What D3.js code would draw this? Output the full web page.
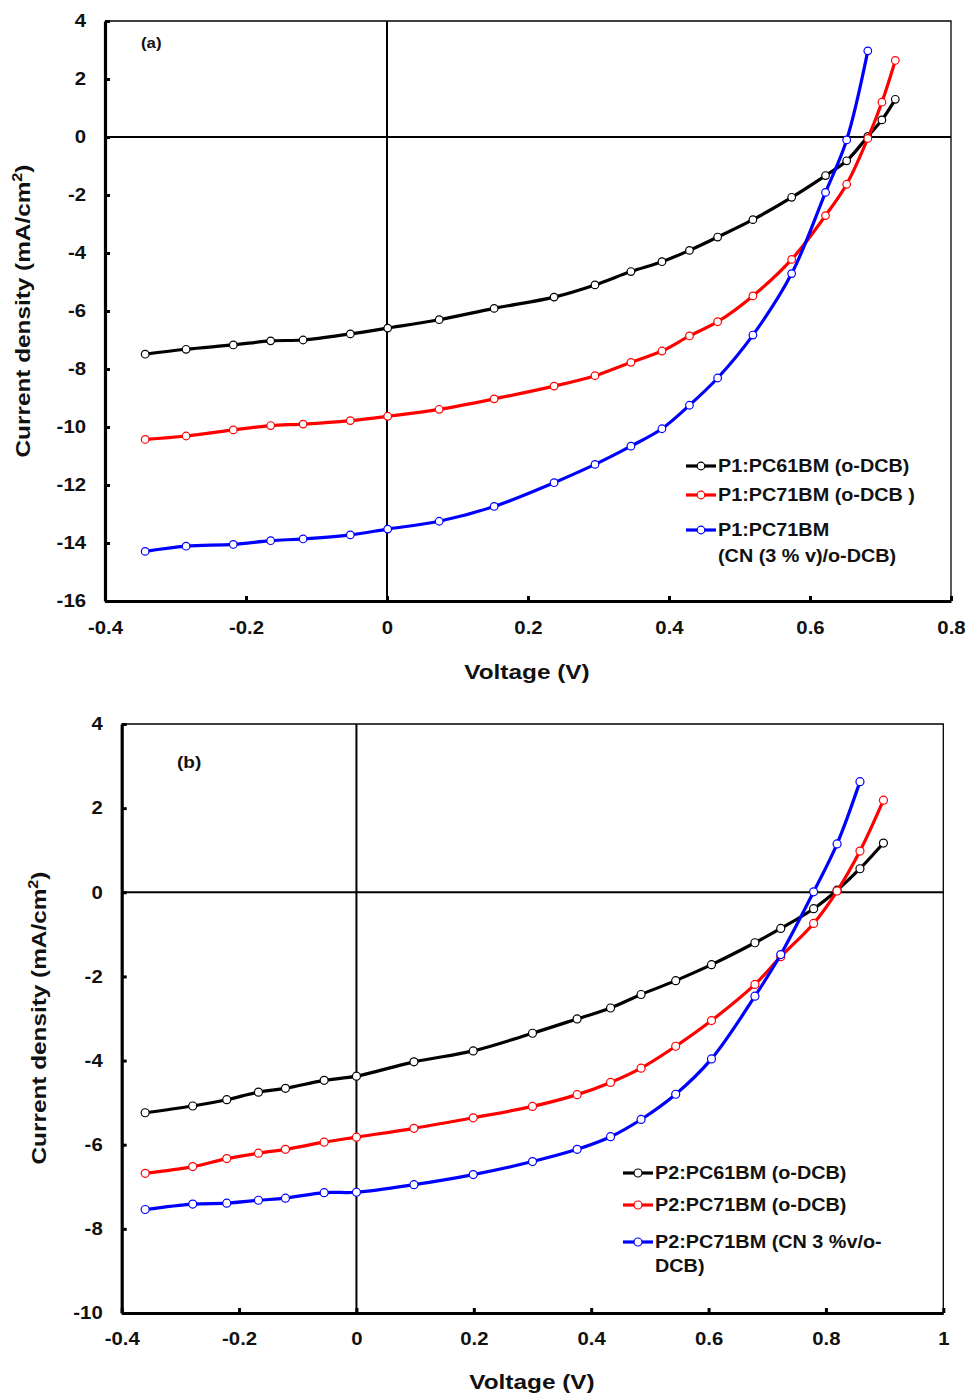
<!DOCTYPE html>
<html>
<head>
<meta charset="utf-8">
<script src="https://cdn.jsdelivr.net/npm/d3@7"></script>
<style>
  body { margin: 0; background: #fff; }
  svg text { font-family: "Liberation Sans", Arial, sans-serif; font-weight: bold; fill: #111; }
</style>
</head>
<body>
<div id="chart"></div>
<script>
// J-V curves, panel (a) P1 blends, panel (b) P2 blends

// panel (a)
var voltA = [-0.343, -0.285, -0.218, -0.165, -0.119, -0.052, 0.001, 0.074, 0.152, 0.237, 0.295,
             0.346, 0.390, 0.429, 0.469, 0.519, 0.574, 0.622, 0.652, 0.682, 0.702, 0.721];
var blackA = [-7.49, -7.32, -7.17, -7.03, -7.00, -6.79, -6.59, -6.30, -5.91, -5.52, -5.10,
              -4.64, -4.30, -3.91, -3.45, -2.85, -2.08, -1.33, -0.82, 0.02, 0.59, 1.30];
var redA = [-10.43, -10.31, -10.10, -9.95, -9.90, -9.78, -9.63, -9.39, -9.03, -8.59, -8.23,
            -7.77, -7.38, -6.86, -6.37, -5.48, -4.22, -2.71, -1.63, -0.05, 1.20, 2.64];
var blueA = [-14.29, -14.11, -14.05, -13.92, -13.86, -13.72, -13.52, -13.25, -12.74, -11.92, -11.29,
             -10.66, -10.06, -9.25, -8.31, -6.83, -4.71, -1.91, -0.10, 2.97];
var legendA = ["P1:PC61BM (o-DCB)", "P1:PC71BM (o-DCB )", ["P1:PC71BM", "(CN (3 % v)/o-DCB)"]];
var xTicksA = [-0.4, -0.2, 0, 0.2, 0.4, 0.6, 0.8];
var yTicksA = [4, 2, 0, -2, -4, -6, -8, -10, -12, -14, -16];

// panel (b)
var voltB = [-0.360, -0.279, -0.221, -0.167, -0.121, -0.055, 0.000, 0.098, 0.199, 0.300, 0.376,
             0.433, 0.485, 0.544, 0.605, 0.679, 0.723, 0.779, 0.819, 0.858, 0.898];
var blackB = [-5.24, -5.08, -4.93, -4.75, -4.66, -4.47, -4.37, -4.03, -3.77, -3.35, -3.01,
              -2.75, -2.43, -2.10, -1.72, -1.20, -0.86, -0.39, 0.05, 0.56, 1.17];
var redB = [-6.68, -6.52, -6.33, -6.20, -6.11, -5.94, -5.82, -5.61, -5.36, -5.09, -4.81,
            -4.52, -4.18, -3.66, -3.05, -2.19, -1.53, -0.74, 0.03, 0.98, 2.19];
var blueB = [-7.54, -7.41, -7.39, -7.32, -7.27, -7.14, -7.13, -6.95, -6.71, -6.40, -6.11,
             -5.81, -5.40, -4.80, -3.96, -2.47, -1.48, 0.01, 1.15, 2.63];
var legendB = ["P2:PC61BM (o-DCB)", "P2:PC71BM (o-DCB)", ["P2:PC71BM (CN 3 %v/o-", "DCB)"]];
var xTicksB = [-0.4, -0.2, 0, 0.2, 0.4, 0.6, 0.8, 1];
var yTicksB = [4, 2, 0, -2, -4, -6, -8, -10];

var colors = ["#000000", "#ff0000", "#0000ff"];

var svg = d3.select("#chart").append("svg")
    .attr("width", 971)
    .attr("height", 1397);

function fmt(d) { return d === 0 ? "0" : String(+d.toFixed(1)); }

// the original's bold font runs wider than Liberation Sans, so stretch glyphs a bit
function widen(sel, k) {
    sel.each(function() {
        var w = this.getComputedTextLength();
        d3.select(this).attr("textLength", w * k).attr("lengthAdjust", "spacingAndGlyphs");
    });
}

function drawPanel(opt) {
    var x = d3.scaleLinear().domain(opt.xDomain).range([opt.left, opt.right]),
        y = d3.scaleLinear().domain(opt.yDomain).range([opt.bottom, opt.top]);

    var g = svg.append("g");

    // thin frame top / right
    g.append("path")
        .attr("d", "M" + opt.left + "," + opt.top + "H" + opt.right + "V" + opt.bottom)
        .attr("fill", "none").attr("stroke", "#000").attr("stroke-width", 1.3);

    // zero lines
    g.append("line")
        .attr("x1", opt.left).attr("x2", opt.right)
        .attr("y1", y(0)).attr("y2", y(0))
        .attr("stroke", "#000").attr("stroke-width", 2);
    g.append("line")
        .attr("x1", x(0)).attr("x2", x(0))
        .attr("y1", opt.top).attr("y2", opt.bottom)
        .attr("stroke", "#000").attr("stroke-width", 2);

    var yAxis = g.append("g")
        .attr("transform", "translate(" + opt.left + ",0)")
        .call(d3.axisLeft(y).tickValues(opt.yTicks).tickFormat(fmt)
            .tickSizeInner(-5).tickSizeOuter(0).tickPadding(19));
    var xAxis = g.append("g")
        .attr("transform", "translate(0," + opt.bottom + ")")
        .call(d3.axisBottom(x).tickValues(opt.xTicks).tickFormat(fmt)
            .tickSizeInner(-5).tickSizeOuter(0).tickPadding(opt.xPad));

    [yAxis, xAxis].forEach(function(a) {
        a.select(".domain").attr("stroke-width", 3.2);
        a.selectAll(".tick line").attr("stroke-width", 3);
        a.selectAll(".tick text")
            .attr("font-family", "'Liberation Sans', Arial, sans-serif")
            .attr("font-weight", "bold")
            .attr("font-size", 18)
            .attr("fill", "#111")
            .call(widen, 1.13);
    });

    var line = d3.line()
        .x(function(d) { return x(d[0]); })
        .y(function(d) { return y(d[1]); })
        .curve(d3.curveCatmullRom.alpha(0.5));

    opt.series.forEach(function(vals, i) {
        var pts = d3.zip(opt.volts.slice(0, vals.length), vals);
        g.append("path")
            .datum(pts)
            .attr("d", line)
            .attr("fill", "none")
            .attr("stroke", colors[i])
            .attr("stroke-width", 3.2);
        g.selectAll(".pt" + i)
            .data(pts)
            .enter().append("circle")
                .attr("class", "pt" + i)
                .attr("cx", function(d) { return x(d[0]); })
                .attr("cy", function(d) { return y(d[1]); })
                .attr("r", opt.r)
                .attr("fill", "#fff")
                .attr("stroke", colors[i])
                .attr("stroke-width", 1.2);
    });

    // panel label
    g.append("text")
        .attr("x", opt.tagX).attr("y", opt.tagY)
        .attr("font-size", opt.tagSize)
        .text(opt.tag)
        .call(widen, 1.12);

    // axis titles
    g.append("text")
        .attr("x", opt.xTitle[0]).attr("y", opt.xTitle[1])
        .attr("text-anchor", "middle")
        .attr("font-size", 21)
        .text("Voltage (V)")
        .call(widen, 1.16);
    var yt = g.append("text")
        .attr("transform", "translate(" + opt.yTitle[0] + "," + opt.yTitle[1] + ") rotate(-90)")
        .attr("text-anchor", "middle")
        .attr("font-size", 21);
    yt.append("tspan").text("Current density (mA/cm");
    yt.append("tspan").attr("font-size", 14).attr("dy", -8).text("2");
    yt.append("tspan").attr("dy", 8).text(")");
    yt.attr("textLength", 293).attr("lengthAdjust", "spacingAndGlyphs");

    // legend
    var lg = g.append("g");
    opt.legend.forEach(function(label, i) {
        var ly = opt.legRows[i];
        lg.append("line")
            .attr("x1", opt.legX).attr("x2", opt.legX + opt.legW)
            .attr("y1", ly).attr("y2", ly)
            .attr("stroke", colors[i]).attr("stroke-width", 3.2);
        lg.append("circle")
            .attr("cx", opt.legX + opt.legW / 2).attr("cy", ly)
            .attr("r", opt.r)
            .attr("fill", "#fff").attr("stroke", colors[i]).attr("stroke-width", 1.2);
        var lines = Array.isArray(label) ? label : [label];
        lines.forEach(function(t, j) {
            lg.append("text")
                .attr("x", opt.legX + opt.legW + 2)
                .attr("y", ly + j * opt.legLine)
                .attr("dy", "0.35em")
                .attr("font-size", 18)
                .text(t)
                .call(widen, 1.1);
        });
    });
}

drawPanel({
    left: 105, right: 951, top: 21, bottom: 601,
    xDomain: [-0.4, 0.8], yDomain: [-16, 4],
    xTicks: xTicksA, yTicks: yTicksA, xPad: 20,
    volts: voltA, series: [blackA, redA, blueA], r: 3.8,
    tag: "(a)", tagX: 141, tagY: 48, tagSize: 15,
    xTitle: [527, 679], yTitle: [30, 311],
    legend: legendA, legX: 686, legW: 30, legRows: [466, 495, 530], legLine: 26
});

drawPanel({
    left: 121.7, right: 943.3, top: 724, bottom: 1313,
    xDomain: [-0.4, 1], yDomain: [-10, 4],
    xTicks: xTicksB, yTicks: yTicksB, xPad: 19,
    volts: voltB, series: [blackB, redB, blueB], r: 4,
    tag: "(b)", tagX: 177, tagY: 768, tagSize: 17,
    xTitle: [532, 1389], yTitle: [46, 1018],
    legend: legendB, legX: 623, legW: 30, legRows: [1173, 1205, 1242], legLine: 24
});
</script>
</body>
</html>
